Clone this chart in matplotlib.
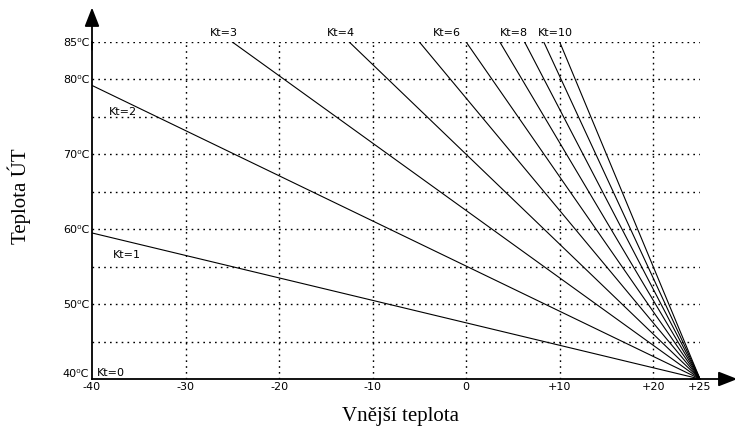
import matplotlib
matplotlib.use('Agg')
from matplotlib import pyplot as plt

# heating curves: each line runs from a start point down to (+25, 40)
kt_values = [1, 2, 3, 4, 5, 6, 7, 8, 9, 10]
start_x = [-40, -40, -25, -12.5, -5, 0, 3.6, 6.25, 8.3, 10]
start_t = [59.5, 79.2, 85, 85, 85, 85, 85, 85, 85, 85]
end_x, end_t = 25, 40

x_ticks = [-40, -30, -20, -10, 0, 10, 20, 25]
x_tick_labels = ['-40', '-30', '-20', '-10', '0', '+10', '+20', '+25']
y_ticks = [40, 50, 60, 70, 80, 85]
y_tick_labels = ['40⁰C', '50⁰C', '60⁰C', '70⁰C', '80⁰C', '85⁰C']
grid_x = [-30, -20, -10, 0, 10, 20]
grid_y = [45, 50, 55, 60, 65, 70, 75, 80, 85]

# Kt labels (text, x, temp)
kt_labels = [('Kt=0', -39.5, 40.8), ('Kt=1', -37.8, 56.5), ('Kt=2', -38.2, 75.6),
             ('Kt=3', -27.4, 86.2), ('Kt=4', -14.9, 86.2), ('Kt=6', -3.6, 86.2),
             ('Kt=8', 3.6, 86.2), ('Kt=10', 7.7, 86.2)]

W, H = 735, 429
fig = plt.figure(figsize=(W / 100, H / 100), dpi=100)
x0, x1, ytop, ybot = 92, 700, 42, 379
ax = fig.add_axes([x0 / W, 1 - ybot / H, (x1 - x0) / W, (ybot - ytop) / H])
ax.set_xlim(-40, 25)
ax.set_ylim(40, 85)

dots = (0, (1.2, 3))
for gx in grid_x:
    ax.plot([gx, gx], [40, 85], color='black', lw=1, ls=dots)
for gy in grid_y:
    ax.plot([-40, 25], [gy, gy], color='black', lw=1, ls=dots)

for kt, sx, st in zip(kt_values, start_x, start_t):
    ax.plot([sx, end_x], [st, end_t], color='black', lw=0.8)

for txt, tx, ty in kt_labels:
    ax.text(tx, ty, txt, fontsize=8, family='DejaVu Sans', va='center', ha='left', clip_on=False)

for s in ['top', 'right']:
    ax.spines[s].set_visible(False)
ax.spines['left'].set_linewidth(1.3)
ax.spines['bottom'].set_linewidth(1.3)

ax.set_xticks(x_ticks)
ax.set_xticklabels(x_tick_labels, fontsize=8)
ax.set_yticks(y_ticks)
ax.set_yticklabels(y_tick_labels, fontsize=8)
ax.tick_params(length=0, pad=2)
for lbl in ax.get_yticklabels():
    if lbl.get_text().startswith('40'):
        lbl.set_va('bottom')

# axis arrows
head = '-|>,head_length=1.15,head_width=0.45'
ax.annotate('', xy=(29.0, 40), xytext=(24, 40), annotation_clip=False,
            arrowprops=dict(arrowstyle=head, color='black', lw=1.3, shrinkA=0, shrinkB=0))
ax.annotate('', xy=(-40, 89.6), xytext=(-40, 84), annotation_clip=False,
            arrowprops=dict(arrowstyle=head, color='black', lw=1.3, shrinkA=0, shrinkB=0))

fig.text(19 / W, 1 - 196 / H, 'Teplota ÚT', rotation=90, fontsize=15,
         family='Liberation Serif', ha='center', va='center')
fig.text(400 / W, 1 - 416 / H, 'Vnější teplota', fontsize=15,
         family='Liberation Serif', ha='center', va='center')

fig.savefig('out.png', dpi=100)
